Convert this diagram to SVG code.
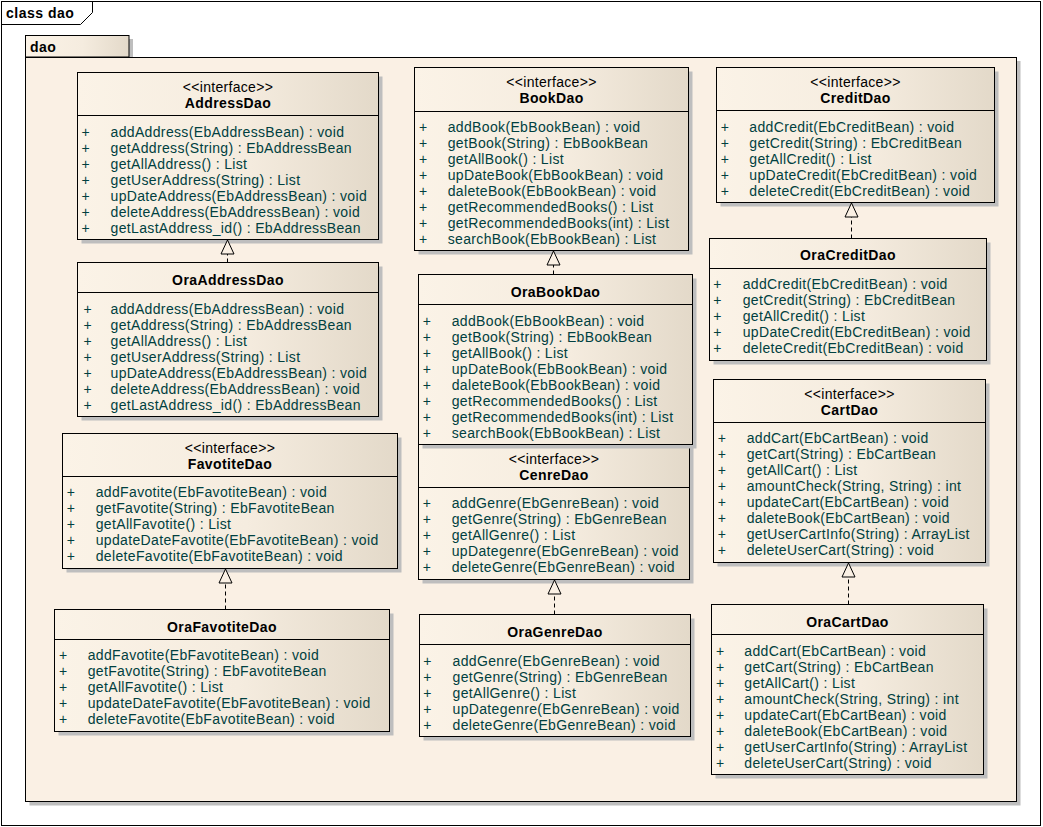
<svg xmlns="http://www.w3.org/2000/svg" width="1043" height="827" viewBox="0 0 1043 827">
<defs>
<linearGradient id="g" x1="0" y1="0" x2="1" y2="0">
<stop offset="0" stop-color="#FBF3E7"/>
<stop offset="0.55" stop-color="#F5ECDF"/>
<stop offset="1" stop-color="#E3D9C9"/>
</linearGradient>
<marker id="tri" markerUnits="userSpaceOnUse" markerWidth="14" markerHeight="13" viewBox="0 0 14 13" refX="14" refY="6.5" orient="auto" overflow="visible">
<path d="M0,0 L14,6.5 L0,13 Z" fill="#FAF0E4" stroke="#000" stroke-width="1"/>
</marker>
<style>
.frame{fill:#fff;stroke:#000;stroke-width:1}
.pkg{fill:#FAF0E4;stroke:#000;stroke-width:1}
.tab{fill:url(#g);stroke:#000;stroke-width:1}
.sh{fill:#BEBEBE}
.box{fill:url(#g);stroke:#000;stroke-width:1}
.dv{stroke:#000;stroke-width:1}
.tt{font-family:"Liberation Sans",Arial,sans-serif;font-size:14px;font-weight:bold;fill:#000;letter-spacing:0.5px}
.st{font-family:"Liberation Sans",Arial,sans-serif;font-size:14px;fill:#000;text-anchor:middle;letter-spacing:0.3px}
.nm{font-family:"Liberation Sans",Arial,sans-serif;font-size:14px;font-weight:bold;fill:#000;text-anchor:middle;letter-spacing:0.4px}
.m{font-family:"Liberation Sans",Arial,sans-serif;font-size:14px;fill:#004040;letter-spacing:0.35px}
.cn{fill:none;stroke:#000;stroke-width:1;stroke-dasharray:4,3;marker-end:url(#tri)}
</style>
</defs>

<g id="frame">
<rect class="frame" x="1.5" y="1.5" width="1039" height="824"/>
<path d="M1.5,24.5 H80.5 L92.5,12.5 V1.5" fill="none" stroke="#000" stroke-width="1"/>
<text class="tt" x="6" y="17.5">class dao</text>
</g>

<g id="package-dao">
<rect class="sh" x="29.5" y="39" width="103.5" height="22"/>
<rect class="sh" x="29.5" y="61" width="991" height="744.5"/>
<rect class="tab" x="25.5" y="35.5" width="103.5" height="21.5"/>
<rect class="pkg" x="25.5" y="57.5" width="991" height="744"/>
<text class="tt" x="30" y="51.5">dao</text>
</g>

<g id="AddressDao">
<rect class="sh" x="81.5" y="76.5" width="301" height="167"/>
<rect class="box" x="77.5" y="72.5" width="301" height="167"/>
<line class="dv" x1="77.5" y1="115.5" x2="378.5" y2="115.5"/>
<text class="st" x="228" y="92">&lt;&lt;interface&gt;&gt;</text>
<text class="nm" x="228" y="107.5">AddressDao</text>
<g class="m">
<text x="81.5" y="136.5">+</text><text x="110.5" y="136.5">addAddress(EbAddressBean) : void</text>
<text x="81.5" y="152.5">+</text><text x="110.5" y="152.5">getAddress(String) : EbAddressBean</text>
<text x="81.5" y="168.5">+</text><text x="110.5" y="168.5">getAllAddress() : List</text>
<text x="81.5" y="184.5">+</text><text x="110.5" y="184.5">getUserAddress(String) : List</text>
<text x="81.5" y="200.5">+</text><text x="110.5" y="200.5">upDateAddress(EbAddressBean) : void</text>
<text x="81.5" y="216.5">+</text><text x="110.5" y="216.5">deleteAddress(EbAddressBean) : void</text>
<text x="81.5" y="232.5">+</text><text x="110.5" y="232.5">getLastAddress_id() : EbAddressBean</text>
</g>
</g>

<g id="OraAddressDao">
<rect class="sh" x="81.5" y="266.5" width="301" height="154"/>
<rect class="box" x="77.5" y="262.5" width="301" height="154"/>
<line class="dv" x1="77.5" y1="292.5" x2="378.5" y2="292.5"/>
<text class="nm" x="228" y="285">OraAddressDao</text>
<g class="m">
<text x="83.5" y="313.5">+</text><text x="110.5" y="313.5">addAddress(EbAddressBean) : void</text>
<text x="83.5" y="329.5">+</text><text x="110.5" y="329.5">getAddress(String) : EbAddressBean</text>
<text x="83.5" y="345.5">+</text><text x="110.5" y="345.5">getAllAddress() : List</text>
<text x="83.5" y="361.5">+</text><text x="110.5" y="361.5">getUserAddress(String) : List</text>
<text x="83.5" y="377.5">+</text><text x="110.5" y="377.5">upDateAddress(EbAddressBean) : void</text>
<text x="83.5" y="393.5">+</text><text x="110.5" y="393.5">deleteAddress(EbAddressBean) : void</text>
<text x="83.5" y="409.5">+</text><text x="110.5" y="409.5">getLastAddress_id() : EbAddressBean</text>
</g>
</g>

<g id="BookDao">
<rect class="sh" x="418.5" y="71.5" width="274" height="183"/>
<rect class="box" x="414.5" y="67.5" width="274" height="183"/>
<line class="dv" x1="414.5" y1="111.5" x2="688.5" y2="111.5"/>
<text class="st" x="551.5" y="87">&lt;&lt;interface&gt;&gt;</text>
<text class="nm" x="551.5" y="103">BookDao</text>
<g class="m">
<text x="419" y="131.7">+</text><text x="447.7" y="131.7">addBook(EbBookBean) : void</text>
<text x="419" y="147.7">+</text><text x="447.7" y="147.7">getBook(String) : EbBookBean</text>
<text x="419" y="163.7">+</text><text x="447.7" y="163.7">getAllBook() : List</text>
<text x="419" y="179.7">+</text><text x="447.7" y="179.7">upDateBook(EbBookBean) : void</text>
<text x="419" y="195.7">+</text><text x="447.7" y="195.7">daleteBook(EbBookBean) : void</text>
<text x="419" y="211.7">+</text><text x="447.7" y="211.7">getRecommendedBooks() : List</text>
<text x="419" y="227.7">+</text><text x="447.7" y="227.7">getRecommendedBooks(int) : List</text>
<text x="419" y="243.7">+</text><text x="447.7" y="243.7">searchBook(EbBookBean) : List</text>
</g>
</g>

<g id="CenreDao">
<rect class="sh" x="422.5" y="447.5" width="271" height="136"/>
<rect class="box" x="418.5" y="443.5" width="271" height="136"/>
<line class="dv" x1="418.5" y1="487.5" x2="689.5" y2="487.5"/>
<text class="st" x="554" y="464">&lt;&lt;interface&gt;&gt;</text>
<text class="nm" x="554" y="479.5">CenreDao</text>
<g class="m">
<text x="422.7" y="508.3">+</text><text x="451.7" y="508.3">addGenre(EbGenreBean) : void</text>
<text x="422.7" y="524.3">+</text><text x="451.7" y="524.3">getGenre(String) : EbGenreBean</text>
<text x="422.7" y="540.3">+</text><text x="451.7" y="540.3">getAllGenre() : List</text>
<text x="422.7" y="556.3">+</text><text x="451.7" y="556.3">upDategenre(EbGenreBean) : void</text>
<text x="422.7" y="572.3">+</text><text x="451.7" y="572.3">deleteGenre(EbGenreBean) : void</text>
</g>
</g>

<g id="OraBookDao">
<rect class="sh" x="422.5" y="278.5" width="274" height="170"/>
<rect class="box" x="418.5" y="274.5" width="274" height="170"/>
<line class="dv" x1="418.5" y1="304.5" x2="692.5" y2="304.5"/>
<text class="nm" x="555.5" y="297">OraBookDao</text>
<g class="m">
<text x="422.7" y="325.7">+</text><text x="451.7" y="325.7">addBook(EbBookBean) : void</text>
<text x="422.7" y="341.7">+</text><text x="451.7" y="341.7">getBook(String) : EbBookBean</text>
<text x="422.7" y="357.7">+</text><text x="451.7" y="357.7">getAllBook() : List</text>
<text x="422.7" y="373.7">+</text><text x="451.7" y="373.7">upDateBook(EbBookBean) : void</text>
<text x="422.7" y="389.7">+</text><text x="451.7" y="389.7">daleteBook(EbBookBean) : void</text>
<text x="422.7" y="405.7">+</text><text x="451.7" y="405.7">getRecommendedBooks() : List</text>
<text x="422.7" y="421.7">+</text><text x="451.7" y="421.7">getRecommendedBooks(int) : List</text>
<text x="422.7" y="437.7">+</text><text x="451.7" y="437.7">searchBook(EbBookBean) : List</text>
</g>
</g>

<g id="OraGenreDao">
<rect class="sh" x="423.5" y="618.5" width="271" height="122"/>
<rect class="box" x="419.5" y="614.5" width="271" height="122"/>
<line class="dv" x1="419.5" y1="644.5" x2="690.5" y2="644.5"/>
<text class="nm" x="555" y="637">OraGenreDao</text>
<g class="m">
<text x="423.3" y="665.7">+</text><text x="452.5" y="665.7">addGenre(EbGenreBean) : void</text>
<text x="423.3" y="681.7">+</text><text x="452.5" y="681.7">getGenre(String) : EbGenreBean</text>
<text x="423.3" y="697.7">+</text><text x="452.5" y="697.7">getAllGenre() : List</text>
<text x="423.3" y="713.7">+</text><text x="452.5" y="713.7">upDategenre(EbGenreBean) : void</text>
<text x="423.3" y="729.7">+</text><text x="452.5" y="729.7">deleteGenre(EbGenreBean) : void</text>
</g>
</g>

<g id="CreditDao">
<rect class="sh" x="720.5" y="71.5" width="278" height="135"/>
<rect class="box" x="716.5" y="67.5" width="278" height="135"/>
<line class="dv" x1="716.5" y1="110.5" x2="994.5" y2="110.5"/>
<text class="st" x="855.5" y="87">&lt;&lt;interface&gt;&gt;</text>
<text class="nm" x="855.5" y="102.5">CreditDao</text>
<g class="m">
<text x="720.7" y="131.7">+</text><text x="749.3" y="131.7">addCredit(EbCreditBean) : void</text>
<text x="720.7" y="147.7">+</text><text x="749.3" y="147.7">getCredit(String) : EbCreditBean</text>
<text x="720.7" y="163.7">+</text><text x="749.3" y="163.7">getAllCredit() : List</text>
<text x="720.7" y="179.7">+</text><text x="749.3" y="179.7">upDateCredit(EbCreditBean) : void</text>
<text x="720.7" y="195.7">+</text><text x="749.3" y="195.7">deleteCredit(EbCreditBean) : void</text>
</g>
</g>

<g id="OraCreditDao">
<rect class="sh" x="713.5" y="242.5" width="277" height="122"/>
<rect class="box" x="709.5" y="238.5" width="277" height="122"/>
<line class="dv" x1="709.5" y1="268.5" x2="986.5" y2="268.5"/>
<text class="nm" x="848" y="260">OraCreditDao</text>
<g class="m">
<text x="713.3" y="289.3">+</text><text x="742.7" y="289.3">addCredit(EbCreditBean) : void</text>
<text x="713.3" y="305.3">+</text><text x="742.7" y="305.3">getCredit(String) : EbCreditBean</text>
<text x="713.3" y="321.3">+</text><text x="742.7" y="321.3">getAllCredit() : List</text>
<text x="713.3" y="337.3">+</text><text x="742.7" y="337.3">upDateCredit(EbCreditBean) : void</text>
<text x="713.3" y="353.3">+</text><text x="742.7" y="353.3">deleteCredit(EbCreditBean) : void</text>
</g>
</g>

<g id="CartDao">
<rect class="sh" x="717.5" y="383.5" width="272" height="183"/>
<rect class="box" x="713.5" y="379.5" width="272" height="183"/>
<line class="dv" x1="713.5" y1="422.5" x2="985.5" y2="422.5"/>
<text class="st" x="849.5" y="398.5">&lt;&lt;interface&gt;&gt;</text>
<text class="nm" x="849.5" y="414.5">CartDao</text>
<g class="m">
<text x="717.7" y="443.3">+</text><text x="746.7" y="443.3">addCart(EbCartBean) : void</text>
<text x="717.7" y="459.3">+</text><text x="746.7" y="459.3">getCart(String) : EbCartBean</text>
<text x="717.7" y="475.3">+</text><text x="746.7" y="475.3">getAllCart() : List</text>
<text x="717.7" y="491.3">+</text><text x="746.7" y="491.3">amountCheck(String, String) : int</text>
<text x="717.7" y="507.3">+</text><text x="746.7" y="507.3">updateCart(EbCartBean) : void</text>
<text x="717.7" y="523.3">+</text><text x="746.7" y="523.3">daleteBook(EbCartBean) : void</text>
<text x="717.7" y="539.3">+</text><text x="746.7" y="539.3">getUserCartInfo(String) : ArrayList</text>
<text x="717.7" y="555.3">+</text><text x="746.7" y="555.3">deleteUserCart(String) : void</text>
</g>
</g>

<g id="OraCartDao">
<rect class="sh" x="715.5" y="608.5" width="272" height="170"/>
<rect class="box" x="711.5" y="604.5" width="272" height="170"/>
<line class="dv" x1="711.5" y1="634.5" x2="983.5" y2="634.5"/>
<text class="nm" x="847.5" y="627">OraCartDao</text>
<g class="m">
<text x="716" y="655.5">+</text><text x="744.3" y="655.5">addCart(EbCartBean) : void</text>
<text x="716" y="671.5">+</text><text x="744.3" y="671.5">getCart(String) : EbCartBean</text>
<text x="716" y="687.5">+</text><text x="744.3" y="687.5">getAllCart() : List</text>
<text x="716" y="703.5">+</text><text x="744.3" y="703.5">amountCheck(String, String) : int</text>
<text x="716" y="719.5">+</text><text x="744.3" y="719.5">updateCart(EbCartBean) : void</text>
<text x="716" y="735.5">+</text><text x="744.3" y="735.5">daleteBook(EbCartBean) : void</text>
<text x="716" y="751.5">+</text><text x="744.3" y="751.5">getUserCartInfo(String) : ArrayList</text>
<text x="716" y="767.5">+</text><text x="744.3" y="767.5">deleteUserCart(String) : void</text>
</g>
</g>

<g id="FavotiteDao">
<rect class="sh" x="66.5" y="437.5" width="335" height="135"/>
<rect class="box" x="62.5" y="433.5" width="335" height="135"/>
<line class="dv" x1="62.5" y1="476.5" x2="397.5" y2="476.5"/>
<text class="st" x="230" y="453">&lt;&lt;interface&gt;&gt;</text>
<text class="nm" x="230" y="468.5">FavotiteDao</text>
<g class="m">
<text x="66.7" y="497.3">+</text><text x="95.7" y="497.3">addFavotite(EbFavotiteBean) : void</text>
<text x="66.7" y="513.3">+</text><text x="95.7" y="513.3">getFavotite(String) : EbFavotiteBean</text>
<text x="66.7" y="529.3">+</text><text x="95.7" y="529.3">getAllFavotite() : List</text>
<text x="66.7" y="545.3">+</text><text x="95.7" y="545.3">updateDateFavotite(EbFavotiteBean) : void</text>
<text x="66.7" y="561.3">+</text><text x="95.7" y="561.3">deleteFavotite(EbFavotiteBean) : void</text>
</g>
</g>

<g id="OraFavotiteDao">
<rect class="sh" x="58.5" y="613.5" width="335" height="122"/>
<rect class="box" x="54.5" y="609.5" width="335" height="122"/>
<line class="dv" x1="54.5" y1="639.5" x2="389.5" y2="639.5"/>
<text class="nm" x="222" y="632">OraFavotiteDao</text>
<g class="m">
<text x="59" y="660">+</text><text x="87.7" y="660">addFavotite(EbFavotiteBean) : void</text>
<text x="59" y="676">+</text><text x="87.7" y="676">getFavotite(String) : EbFavotiteBean</text>
<text x="59" y="692">+</text><text x="87.7" y="692">getAllFavotite() : List</text>
<text x="59" y="708">+</text><text x="87.7" y="708">updateDateFavotite(EbFavotiteBean) : void</text>
<text x="59" y="724">+</text><text x="87.7" y="724">deleteFavotite(EbFavotiteBean) : void</text>
</g>
</g>

<g id="connectors">
<line class="cn" x1="227.5" y1="262.5" x2="227.5" y2="240"/>
<line class="cn" x1="553.5" y1="274.5" x2="553.5" y2="251"/>
<line class="cn" x1="554.5" y1="614.5" x2="554.5" y2="580"/>
<line class="cn" x1="851.5" y1="238.5" x2="851.5" y2="203"/>
<line class="cn" x1="848.5" y1="604.5" x2="848.5" y2="563"/>
<line class="cn" x1="225.5" y1="609.5" x2="225.5" y2="569"/>
</g>
</svg>
